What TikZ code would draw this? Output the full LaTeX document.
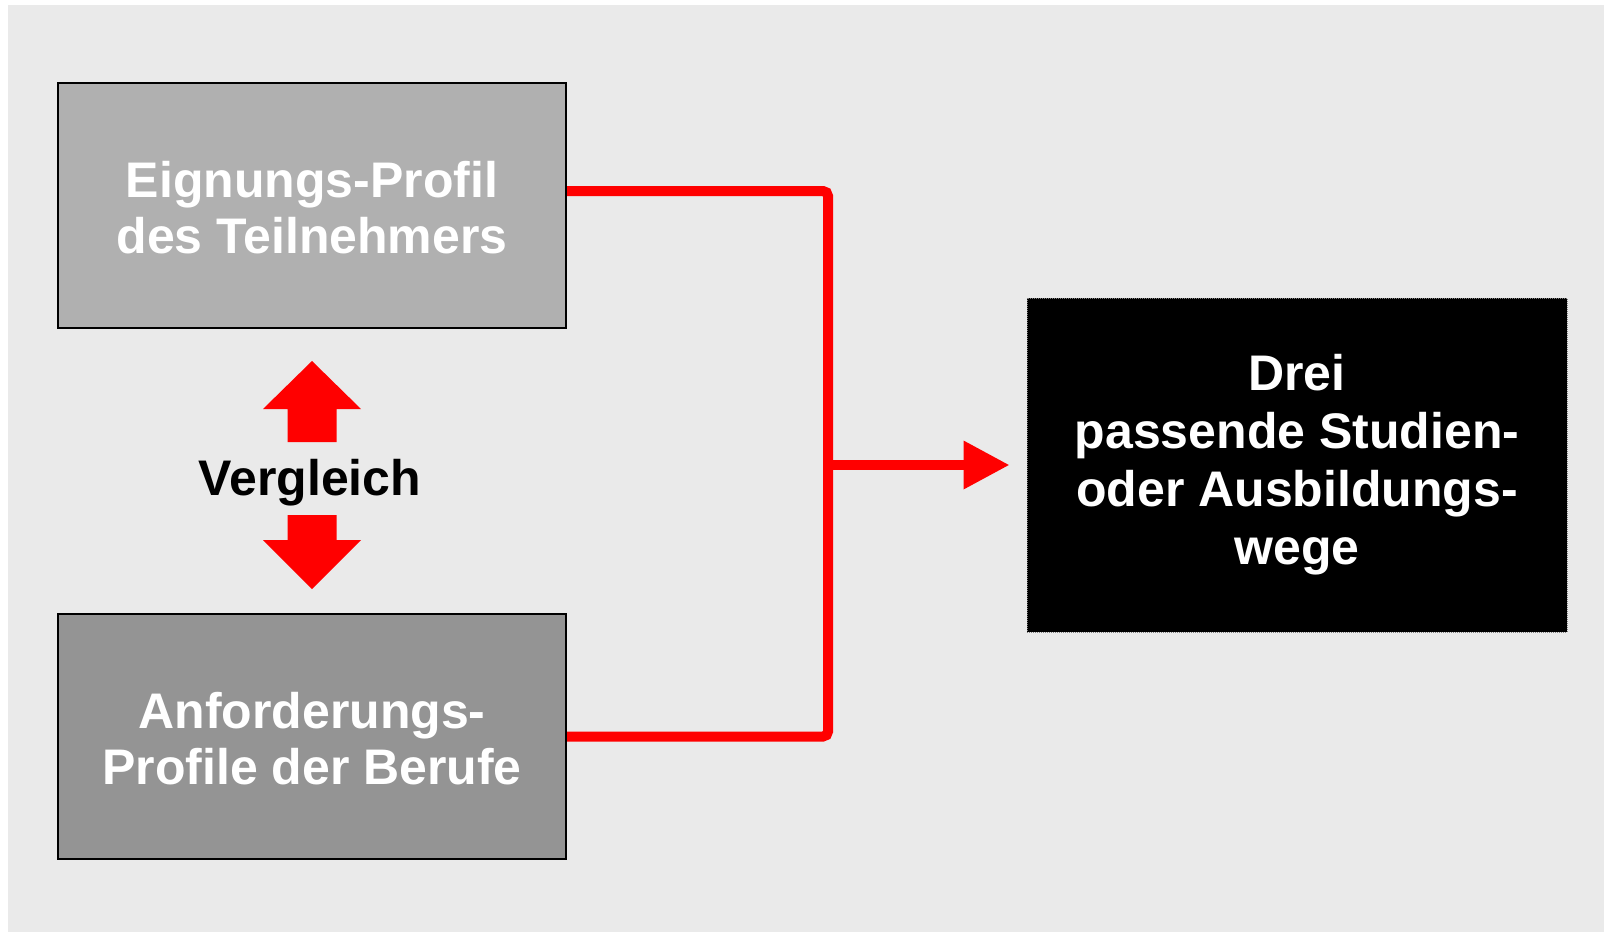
\documentclass[tikz,border=0pt]{standalone}
\usepackage{fontspec}
\setmainfont{Liberation Sans}
\usetikzlibrary{arrows.meta}
\definecolor{bggray}{HTML}{EAEAEA}
\definecolor{boxone}{HTML}{B0B0B0}
\definecolor{boxtwo}{HTML}{949494}
\definecolor{myred}{HTML}{FF0000}
\tikzset{
  profbox/.style={draw=black, line width=2pt, minimum width=508pt, minimum height=245pt,
    inner sep=0pt, text=white, align=center,
    font=\fontsize{50}{56}\selectfont\bfseries},
  resultbox/.style={fill=black, draw=gray, densely dotted, line width=1pt,
    minimum width=540pt, minimum height=334pt, inner sep=0pt, text=white, align=center,
    font=\fontsize{50}{58}\selectfont\bfseries},
  conn/.style={draw=myred, line width=10pt},
  blockarrow/.style={fill=myred, draw=none},
}
\begin{document}
\begin{tikzpicture}[x=1pt,y=-1pt]
\useasboundingbox (0,0) rectangle (1604,932);
\fill[white] (0,0) rectangle (1604,932);
\fill[bggray] (8,5) rectangle (1604,932);

\node[profbox, fill=boxone] (eig) at (312,205.5) {\rule{0pt}{41pt}Eignungs-Profil\\des Teilnehmers};
\node[profbox, fill=boxtwo] (anf) at (312,736.5) {\rule{0pt}{41pt}Anforderungs-\\Profile der Berufe};
\node[resultbox] (res) at (1297,465) {Drei\\passende Studien-\\oder Ausbildungs-\\wege};

\node[anchor=base, font=\fontsize{50}{56}\selectfont\bfseries, text=black] (ver) at (310,495) {Vergleich};

% block arrows
\fill[blockarrow] (312,361) -- (361,409) -- (336.5,409) -- (336.5,442) -- (287.5,442) -- (287.5,409) -- (263,409) -- cycle;
\fill[blockarrow] (312,589) -- (361,540) -- (336.5,540) -- (336.5,515) -- (287.5,515) -- (287.5,540) -- (263,540) -- cycle;

% connectors
\coordinate (junc) at (828,465);
\draw[conn, rounded corners=5pt] ([yshift=14.5pt]eig.east) -| (junc) |- (anf.east);
\draw[conn, -{Triangle[length=46pt,width=46pt]}, shorten >=17pt] (junc) -- (res.west);
\end{tikzpicture}
\end{document}
